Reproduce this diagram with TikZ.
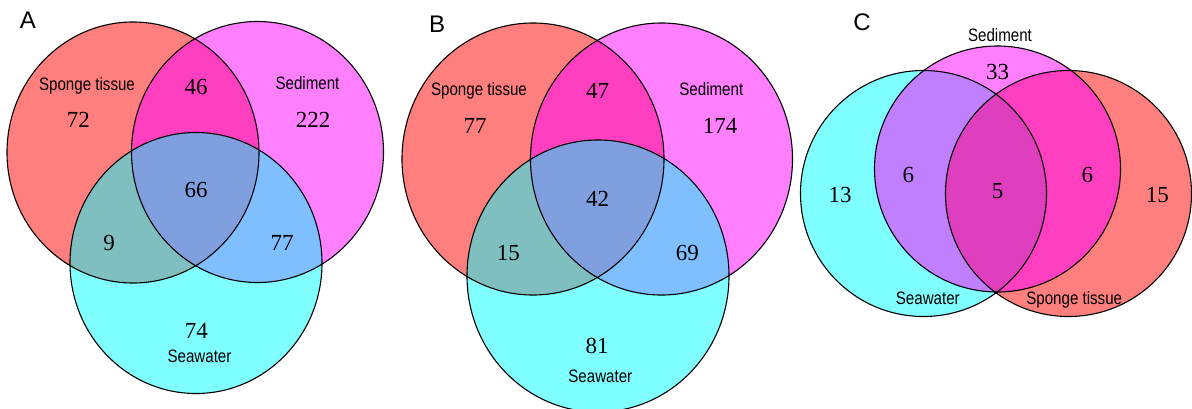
\documentclass[tikz,border=0pt]{standalone}
\usepackage{fontspec}
\setmainfont{Liberation Serif}
\newfontfamily\labfont[FakeStretch=0.84]{Liberation Sans}
\newfontfamily\panfont{Liberation Sans}
\definecolor{vred}{RGB}{255,0,0}
\definecolor{vmag}{RGB}{255,0,255}
\definecolor{vcyan}{RGB}{0,255,255}
\begin{document}
\begin{tikzpicture}[x=1pt,y=-1pt,
  setfill/.style={fill opacity=0.5},
  outline/.style={draw=black,line width=1.1pt},
  num/.style={inner sep=0pt,font=\fontsize{23}{23}\selectfont},
  lab/.style={inner sep=0pt,font=\labfont\fontsize{18}{18}\selectfont},
  pan/.style={inner sep=0pt,font=\panfont\fontsize{24}{24}\selectfont}]
\useasboundingbox (0,0) rectangle (1192,408);
\clip (0,0) rectangle (1192,408);
\fill[white] (0,0) rectangle (1192,408);
% ---------- Panel A ----------
\def\rxA{126}\def\ryA{130.5}
\fill[vred,setfill] (133,152.5) ellipse [x radius=\rxA, y radius=\ryA];
\fill[vmag,setfill] (257.5,152) ellipse [x radius=\rxA, y radius=\ryA];
\fill[vcyan,setfill] (196,263) ellipse [x radius=\rxA, y radius=\ryA];
\draw[outline] (133,152.5) ellipse [x radius=\rxA, y radius=\ryA];
\draw[outline] (257.5,152) ellipse [x radius=\rxA, y radius=\ryA];
\draw[outline] (196,263) ellipse [x radius=\rxA, y radius=\ryA];
\node[pan] (pA) at (28,20) {A};
\node[lab] (stA) at (87,85.5) {Sponge tissue};
\node[num] (a72) at (78.3,119.7) {72};
\node[num] (a46) at (196,87) {46};
\node[lab] (sdA) at (307.5,83.3) {Sediment};
\node[num] (a222) at (313,120) {222};
\node[num] (a66) at (196,190) {66};
\node[num] (a9) at (109,243) {9};
\node[num] (a77) at (282,243) {77};
\node[num] (a74) at (196.3,330.5) {74};
\node[lab] (swA) at (199.5,356) {Seawater};
% ---------- Panel B ----------
\def\rxB{131}\def\ryB{136}
\fill[vred,setfill] (533,159) ellipse [x radius=\rxB, y radius=\ryB];
\fill[vmag,setfill] (661.5,159) ellipse [x radius=\rxB, y radius=\ryB];
\fill[vcyan,setfill] (598,276) ellipse [x radius=\rxB, y radius=\ryB];
\draw[outline] (533,159) ellipse [x radius=\rxB, y radius=\ryB];
\draw[outline] (661.5,159) ellipse [x radius=\rxB, y radius=\ryB];
\draw[outline] (598,276) ellipse [x radius=\rxB, y radius=\ryB];
\node[pan] (pB) at (437,24) {B};
\node[lab] (stB) at (479,90.8) {Sponge tissue};
\node[num] (b77) at (475,126) {77};
\node[num] (b47) at (597.7,91) {47};
\node[lab] (sdB) at (711.3,88.8) {Sediment};
\node[num] (b174) at (720,126) {174};
\node[num] (b42) at (597.7,199.3) {42};
\node[num] (b15) at (508.3,253.3) {15};
\node[num] (b69) at (687.3,253.3) {69};
\node[num] (b81) at (597,345.7) {81};
\node[lab] (swB) at (600.3,376) {Seawater};
% ---------- Panel C ----------
\def\rC{123}
\fill[vcyan,setfill] (923.5,193.5) circle [radius=\rC];
\fill[vred,setfill] (1068.5,193.5) circle [radius=\rC];
\fill[vmag,setfill] (997.5,169) circle [radius=\rC];
\draw[outline] (923.5,193.5) circle [radius=\rC];
\draw[outline] (1068.5,193.5) circle [radius=\rC];
\draw[outline] (997.5,169) circle [radius=\rC];
\node[pan] (pC) at (862,22) {C};
\node[lab] (sdC) at (1000,35) {Sediment};
\node[num] (c33) at (997.7,71.7) {33};
\node[num] (c13) at (840,195) {13};
\node[num] (c6a) at (908.3,175) {6};
\node[num] (c5) at (997.7,191) {5};
\node[num] (c6b) at (1087.3,175) {6};
\node[num] (c15) at (1157.3,195) {15};
\node[lab] (swC) at (927.8,298) {Seawater};
\node[lab] (stC) at (1074.2,300) {Sponge tissue};
\end{tikzpicture}
\end{document}
